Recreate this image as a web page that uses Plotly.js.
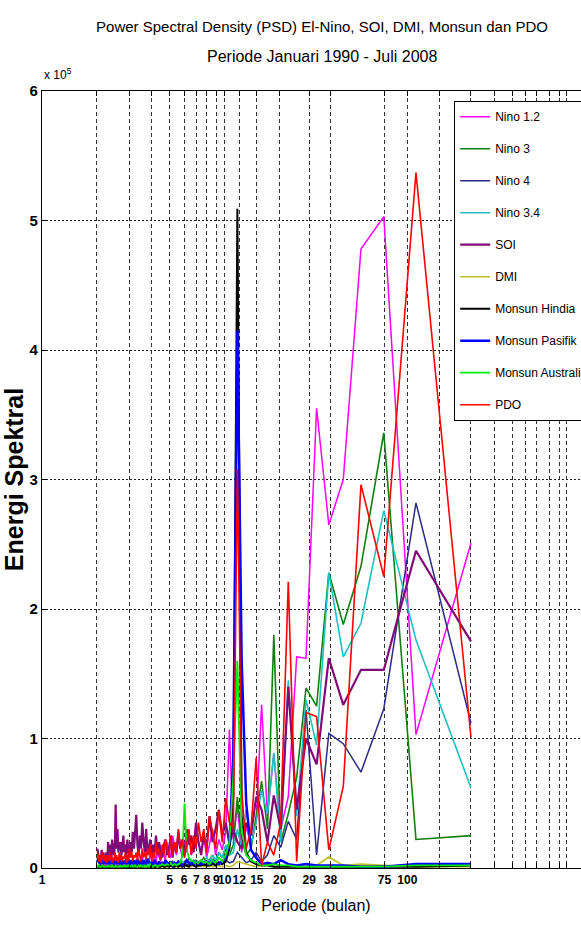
<!DOCTYPE html>
<html><head><meta charset="utf-8">
<script src="https://cdn.plot.ly/plotly-3.0.1.min.js"></script>
<style>html,body{margin:0;padding:0;overflow:hidden;background:#fff}#chart{width:600px;height:938px}</style>
</head><body><div id="chart"></div><script>
// Periods (months) of the spectral estimates, N = 223 months (Jan 1990 - Jul 2008), k = 1..111
const periode = [
223,111.5,74.33,55.75,44.6,37.17,31.86,27.88,24.78,22.3,
20.27,18.58,17.15,15.93,14.87,13.94,13.12,12.39,11.74,11.15,
10.62,10.14,9.70,9.29,8.92,8.58,8.26,7.96,7.69,7.43,
7.19,6.97,6.76,6.56,6.37,6.19,6.03,5.87,5.72,5.58,
5.44,5.31,5.19,5.07,4.96,4.85,4.74,4.65,4.55,4.46,
4.37,4.29,4.21,4.13,4.05,3.98,3.91,3.84,3.78,3.72,
3.66,3.60,3.54,3.48,3.43,3.38,3.33,3.28,3.23,3.19,
3.14,3.10,3.05,3.01,2.97,2.93,2.90,2.86,2.82,2.79,
2.75,2.72,2.69,2.65,2.62,2.59,2.56,2.53,2.51,2.48,
2.45,2.42,2.40,2.37,2.35,2.32,2.30,2.28,2.25,2.23,
2.21,2.19,2.17,2.14,2.12,2.10,2.08,2.06,2.05,2.03,2.01];

// Spectral energy, in units of 10^5
const nino12 = [
2.51,1.03,5.03,4.78,3.00,2.65,3.55,1.62,1.63,0.55,
0.30,0.88,0.40,1.26,0.35,0.18,0.32,0.12,0.48,0.22,
1.07,0.28,0.14,0.22,0.10,0.30,0.18,0.08,0.25,0.12,
0.20,0.35,0.15,0.10,0.28,0.12,0.20,0.08,0.15,0.22,
0.10,0.18,0.25,0.08,0.12,0.20,0.06,0.10,0.15,0.05,
0.08,0.12,0.05,0.10,0.04,0.07,0.12,0.05,0.03,0.08,
0.05,0.04,0.09,0.03,0.06,0.04,0.02,0.05,0.03,0.04,
0.02,0.05,0.03,0.02,0.04,0.02,0.03,0.05,0.02,0.03,
0.02,0.04,0.02,0.03,0.02,0.01,0.03,0.02,0.04,0.02,
0.03,0.02,0.01,0.02,0.03,0.02,0.01,0.02,0.03,0.02,
0.01,0.02,0.03,0.01,0.02,0.01,0.02,0.01,0.02,0.01,0.02];
const nino3 = [
0.25,0.22,3.36,2.33,1.88,2.28,1.25,1.39,0.70,0.42,
0.20,1.80,0.30,0.67,0.40,0.15,0.10,0.22,0.55,0.18,
0.10,0.15,0.08,0.12,0.05,0.10,0.06,0.04,0.08,0.05,
0.04,0.06,0.03,0.05,0.08,0.03,0.04,0.02,0.05,0.03,
0.02,0.04,0.03,0.02,0.03,0.02,0.04,0.02,0.03,0.02,
0.02,0.03,0.02,0.02,0.01,0.03,0.02,0.01,0.02,0.02,
0.01,0.02,0.01,0.02,0.01,0.01,0.02,0.01,0.01,0.02,
0.01,0.01,0.02,0.01,0.01,0.01,0.02,0.01,0.01,0.01,
0.01,0.02,0.01,0.01,0.01,0.01,0.01,0.02,0.01,0.01,
0.01,0.01,0.01,0.01,0.02,0.01,0.01,0.01,0.01,0.01,
0.01,0.01,0.01,0.02,0.01,0.01,0.01,0.01,0.01,0.01,0.01];
const nino4 = [
1.12,2.82,1.23,0.74,0.96,1.04,0.10,1.22,0.22,0.36,
0.16,0.25,0.10,0.05,0.12,0.06,0.04,0.08,0.12,0.05,
0.04,0.06,0.03,0.05,0.02,0.04,0.06,0.03,0.02,0.04,
0.03,0.05,0.02,0.04,0.03,0.02,0.05,0.03,0.02,0.04,
0.02,0.03,0.05,0.02,0.04,0.03,0.06,0.02,0.04,0.03,
0.05,0.02,0.04,0.06,0.03,0.05,0.02,0.04,0.07,0.03,
0.05,0.04,0.02,0.06,0.03,0.05,0.08,0.03,0.04,0.06,
0.02,0.05,0.03,0.07,0.04,0.02,0.05,0.03,0.06,0.04,
0.03,0.05,0.02,0.04,0.06,0.03,0.05,0.04,0.02,0.06,
0.04,0.03,0.07,0.05,0.03,0.04,0.06,0.02,0.05,0.03,
0.06,0.04,0.08,0.03,0.05,0.04,0.07,0.03,0.05,0.06,0.08];
const nino34 = [
0.62,1.76,2.76,1.89,1.63,2.28,0.95,1.30,0.40,1.45,
0.20,0.89,0.42,0.60,0.35,0.18,0.45,0.15,0.30,0.12,
0.10,0.18,0.08,0.12,0.06,0.10,0.05,0.08,0.04,0.06,
0.05,0.04,0.06,0.03,0.05,0.04,0.03,0.05,0.02,0.04,
0.03,0.02,0.04,0.03,0.02,0.03,0.02,0.03,0.02,0.02,
0.02,0.03,0.02,0.01,0.02,0.02,0.01,0.02,0.02,0.01,
0.02,0.01,0.02,0.01,0.01,0.02,0.01,0.01,0.02,0.01,
0.01,0.02,0.01,0.01,0.01,0.02,0.01,0.01,0.01,0.02,
0.01,0.01,0.01,0.02,0.01,0.01,0.01,0.01,0.02,0.01,
0.01,0.01,0.02,0.01,0.01,0.01,0.01,0.02,0.01,0.01,
0.01,0.01,0.01,0.01,0.02,0.01,0.01,0.01,0.01,0.01,0.01];
const soi = [
1.75,2.45,1.53,1.53,1.26,1.62,0.80,1.00,0.45,1.40,
0.30,0.56,0.20,0.45,0.55,0.25,0.35,0.15,0.20,0.30,
0.18,0.35,0.25,0.45,0.30,0.20,0.40,0.15,0.25,0.10,
0.20,0.35,0.12,0.25,0.18,0.30,0.10,0.22,0.15,0.28,
0.12,0.20,0.08,0.25,0.15,0.10,0.22,0.18,0.08,0.15,
0.20,0.10,0.25,0.12,0.18,0.08,0.22,0.15,0.10,0.30,
0.12,0.20,0.35,0.15,0.25,0.10,0.18,0.41,0.20,0.15,
0.28,0.12,0.20,0.08,0.15,0.22,0.10,0.18,0.12,0.25,
0.15,0.10,0.20,0.18,0.12,0.30,0.15,0.49,0.20,0.10,
0.15,0.22,0.08,0.12,0.18,0.10,0.20,0.06,0.12,0.08,
0.10,0.05,0.12,0.08,0.14,0.06,0.10,0.05,0.08,0.12,0.15];
const dmi = [
0.01,0.01,0.02,0.03,0.02,0.085,0.02,0.01,0.02,0.01,
0.02,0.01,0.03,0.02,0.01,0.02,0.03,0.04,0.05,0.02,
0.01,0.02,0.01,0.02,0.01,0.01,0.02,0.01,0.01,0.02,
0.01,0.01,0.02,0.01,0.01,0.01,0.02,0.01,0.01,0.01,
0.01,0.01,0.01,0.02,0.01,0.01,0.01,0.01,0.01,0.01,
0.01,0.01,0.01,0.01,0.01,0.01,0.01,0.01,0.01,0.01,
0.01,0.01,0.01,0.01,0.01,0.01,0.01,0.01,0.01,0.01,
0.01,0.01,0.01,0.01,0.01,0.01,0.01,0.01,0.01,0.01,
0.01,0.01,0.01,0.01,0.01,0.01,0.01,0.01,0.01,0.01,
0.01,0.01,0.01,0.01,0.01,0.01,0.01,0.01,0.01,0.01,
0.01,0.01,0.01,0.01,0.01,0.01,0.01,0.01,0.01,0.01,0.01];
const hindia = [
0.02,0.01,0.01,0.01,0.01,0.01,0.01,0.01,0.01,0.01,
0.01,0.01,0.02,0.02,0.03,0.05,0.12,0.40,5.09,0.55,
0.15,0.05,0.03,0.04,0.02,0.03,0.02,0.02,0.03,0.02,
0.02,0.01,0.02,0.03,0.01,0.02,0.02,0.01,0.02,0.01,
0.02,0.01,0.01,0.02,0.01,0.02,0.01,0.01,0.02,0.01,
0.01,0.02,0.01,0.01,0.01,0.02,0.01,0.01,0.01,0.01,
0.02,0.01,0.01,0.01,0.01,0.01,0.02,0.01,0.01,0.01,
0.01,0.01,0.01,0.02,0.01,0.01,0.01,0.01,0.01,0.01,
0.01,0.01,0.02,0.01,0.01,0.01,0.01,0.01,0.01,0.02,
0.01,0.01,0.01,0.01,0.01,0.01,0.02,0.01,0.01,0.01,
0.01,0.01,0.01,0.01,0.01,0.02,0.01,0.01,0.01,0.01,0.01];
const pasifik = [
0.03,0.03,0.01,0.01,0.02,0.02,0.02,0.03,0.02,0.03,
0.06,0.03,0.04,0.03,0.08,0.14,0.50,1.60,4.15,0.85,
0.20,0.08,0.05,0.03,0.04,0.06,0.03,0.05,0.04,0.03,
0.04,0.02,0.05,0.03,0.04,0.06,0.03,0.02,0.04,0.05,
0.03,0.04,0.02,0.05,0.03,0.04,0.06,0.03,0.04,0.02,
0.05,0.03,0.04,0.06,0.02,0.04,0.03,0.05,0.07,0.03,
0.04,0.06,0.03,0.05,0.02,0.04,0.06,0.03,0.05,0.04,
0.03,0.06,0.04,0.02,0.05,0.03,0.07,0.04,0.03,0.05,
0.04,0.06,0.03,0.05,0.08,0.03,0.04,0.06,0.03,0.05,
0.07,0.04,0.03,0.06,0.04,0.05,0.03,0.07,0.04,0.06,
0.05,0.03,0.06,0.04,0.08,0.05,0.03,0.06,0.04,0.07,0.05];
const australia = [
0.02,0.02,0.01,0.01,0.01,0.01,0.01,0.01,0.01,0.02,
0.02,0.03,0.02,0.02,0.04,0.06,0.10,0.30,1.60,0.70,
0.20,0.10,0.05,0.08,0.04,0.06,0.03,0.05,0.04,0.06,
0.04,0.03,0.05,0.06,0.08,0.15,0.50,0.10,0.04,0.03,
0.02,0.03,0.02,0.04,0.02,0.03,0.02,0.02,0.03,0.02,
0.02,0.01,0.02,0.02,0.01,0.02,0.03,0.01,0.02,0.01,
0.02,0.01,0.01,0.02,0.01,0.02,0.01,0.01,0.02,0.01,
0.01,0.02,0.01,0.01,0.02,0.01,0.01,0.01,0.02,0.01,
0.01,0.01,0.02,0.01,0.01,0.01,0.01,0.02,0.01,0.01,
0.01,0.02,0.01,0.01,0.01,0.01,0.02,0.01,0.01,0.01,
0.01,0.01,0.01,0.02,0.01,0.01,0.01,0.01,0.01,0.02,0.01];
const pdo = [
1.01,5.37,2.25,2.96,0.63,0.14,1.17,1.20,0.05,2.21,
0.35,0.10,0.20,0.02,0.85,0.30,0.15,0.60,3.08,0.30,
0.35,0.54,0.20,0.45,0.15,0.28,0.40,0.12,0.30,0.20,
0.35,0.15,0.25,0.10,0.30,0.18,0.08,0.22,0.15,0.30,
0.12,0.20,0.10,0.25,0.08,0.15,0.22,0.10,0.18,0.06,
0.15,0.10,0.20,0.08,0.12,0.05,0.18,0.10,0.15,0.07,
0.12,0.08,0.15,0.05,0.10,0.14,0.06,0.12,0.08,0.10,
0.05,0.12,0.08,0.15,0.06,0.10,0.04,0.12,0.07,0.09,
0.05,0.10,0.06,0.12,0.04,0.08,0.10,0.05,0.12,0.06,
0.08,0.04,0.10,0.06,0.12,0.05,0.08,0.10,0.04,0.07,
0.10,0.05,0.08,0.12,0.06,0.04,0.10,0.07,0.05,0.09,0.12];

const seriesNames = ['Nino 1.2','Nino 3','Nino 4','Nino 3.4','SOI','DMI','Monsun Hindia','Monsun Pasifik','Monsun Australia','PDO'];
const seriesValues = [nino12, nino3, nino4, nino34, soi, dmi, hindia, pasifik, australia, pdo];
const seriesColors = ['#ff00ff','#108010','#2c2c88','#20c0c0','#800a78','#c0c020','#000000','#0000ff','#00ee00','#ff0000'];
const seriesWidths = [1.5,1.6,1.5,1.6,2.2,1.6,2,2.5,1.8,1.6];

const xTickVals = [1,2,3,4,5,6,7,8,9,10,12,15,20,29,38,75,100,150,223,300,378,445,511,602,677,743];
const xTickText = ['1','','','','5','6','7','8','9','10','12','15','20','29','38','75','100','','','','','','','','',''];
const yTickVals = [0,1,2,3,4,5,6];

const SANS = '"Liberation Sans", Arial, sans-serif';

const traces = seriesNames.map((n, i) => ({
  type: 'scatter', mode: 'lines', name: n, legendgroup: n,
  x: periode, y: seriesValues[i],
  line: {color: seriesColors[i], width: seriesWidths[i]}
}));

const layout = {
  width: 600, height: 938,
  margin: {l: 42, r: 10, t: 91, b: 70, autoexpand: false},
  paper_bgcolor: '#fff', plot_bgcolor: '#fff',
  showlegend: true,
  title: {text: 'Power Spectral Density (PSD) El-Nino, SOI, DMI, Monsun dan PDO',
    x: 322/600, xanchor: 'center', xref: 'container', y: 1 - 27/938, yanchor: 'middle', yref: 'container',
    font: {family: SANS, size: 15, color: '#000'}},
  xaxis: {type: 'log', range: [0, 3], tickmode: 'array', tickvals: xTickVals, ticktext: xTickText, tickangle: 0,
    ticks: 'inside', ticklen: 5, tickcolor: '#000', showline: true, linecolor: '#000', linewidth: 1.2, mirror: 'ticks',
    showgrid: true, gridcolor: '#333', gridwidth: 1, griddash: '4px,3px', zeroline: false,
    tickfont: {family: SANS, size: 12, color: '#000', weight: 'bold'},
    title: {text: 'Periode (bulan)', standoff: 14, font: {family: SANS, size: 16, color: '#000'}}},
  yaxis: {range: [0, 6], tickmode: 'array', tickvals: yTickVals, ticktext: yTickVals.map(String),
    ticks: 'inside', ticklen: 5, tickcolor: '#000', showline: true, linecolor: '#000', linewidth: 1.2, mirror: 'ticks',
    showgrid: true, gridcolor: '#222', gridwidth: 1, griddash: '2px,2px', zeroline: false,
    tickfont: {family: SANS, size: 15, color: '#000', weight: 'bold'},
    title: {text: 'Energi Spektral', standoff: 1, font: {family: SANS, size: 25, color: '#000', weight: 'bold'}}},
  legend: {x: (454-42)/548, y: (868-101)/777, xanchor: 'left', yanchor: 'top',
    bgcolor: '#fff', bordercolor: '#000', borderwidth: 1.2, tracegroupgap: 13,
    font: {family: SANS, size: 12, color: '#000'}},
  annotations: [
    {text: 'Periode Januari 1990 - Juli 2008', xref: 'paper', yref: 'paper', x: (322-42)/548, y: (868-57)/777,
     xanchor: 'center', yanchor: 'middle', showarrow: false, font: {family: SANS, size: 16, color: '#000'}},
    {text: 'x 10<sup>5</sup>', xref: 'paper', yref: 'paper', x: 0, y: (868-74)/777, xanchor: 'left', yanchor: 'middle',
     showarrow: false, font: {family: SANS, size: 12, color: '#000'}}
  ]
};

Plotly.newPlot('chart', traces, layout, {displayModeBar: false, staticPlot: true});
</script></body></html>
